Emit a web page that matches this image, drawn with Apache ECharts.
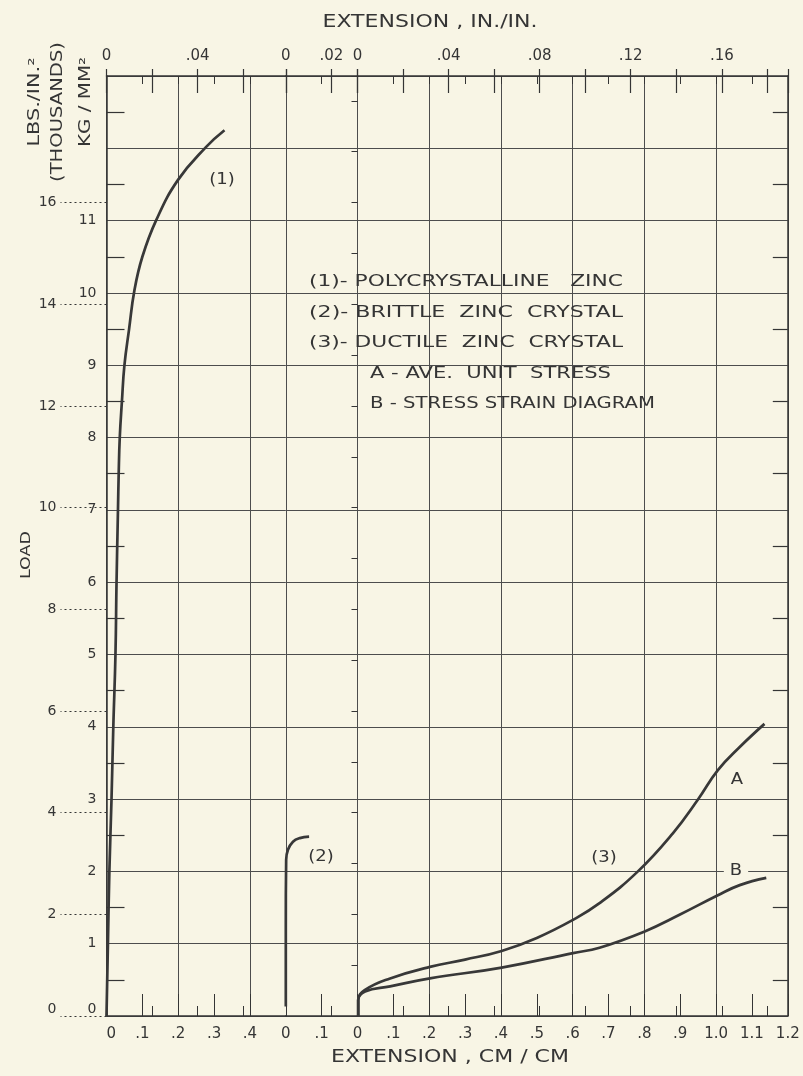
<!DOCTYPE html>
<html>
<head>
<meta charset="utf-8">
<script src="https://cdn.jsdelivr.net/npm/echarts@6/dist/echarts.min.js"></script>
<style>
  html, body { margin: 0; padding: 0; background: #f8f5e5; }
  #chart { width: 803px; height: 1076px; }
</style>
</head>
<body>
<div id="chart"></div>
<script>
// (1) Polycrystalline zinc: extension (cm/cm) and load (kg/mm²)
const polyExt  = [0, 0.004, 0.008, 0.014, 0.019, 0.025, 0.028, 0.032, 0.034, 0.037, 0.043, 0.050, 0.063, 0.078, 0.100, 0.138, 0.199, 0.278, 0.329];
const polyLoad = [0, 1, 2, 3, 4, 5, 6, 7, 7.5, 8, 8.5, 9, 9.5, 10.04, 10.5, 11.0, 11.56, 12.02, 12.25];

// (2) Brittle zinc crystal
const brittleExt  = [0, 0, 0.001, 0.006, 0.020, 0.039, 0.065];
const brittleLoad = [0.13, 1.2, 2.16, 2.30, 2.41, 2.46, 2.48];

// (3) Ductile zinc crystal, A: average unit stress
const ductileAExt  = [0.002, 0.002, 0.021, 0.091, 0.202, 0.300, 0.402, 0.500, 0.601, 0.675, 0.782, 0.880, 0.949, 1.005, 1.066, 1.135];
const ductileALoad = [0, 0.22, 0.36, 0.52, 0.68, 0.78, 0.90, 1.08, 1.33, 1.56, 2.00, 2.53, 2.99, 3.40, 3.72, 4.04];

// (3) Ductile zinc crystal, B: stress-strain diagram
const ductileBExt  = [0.002, 0.002, 0.021, 0.091, 0.202, 0.402, 0.601, 0.675, 0.801, 0.898, 1.005, 1.066, 1.140];
const ductileBLoad = [0, 0.22, 0.34, 0.41, 0.52, 0.67, 0.87, 0.945, 1.17, 1.40, 1.67, 1.81, 1.91];

// Secondary load scale (thousands of lb/in²) marked on the left
const ksiTicks = [0, 2, 4, 6, 8, 10, 12, 14, 16];

// Legend lines
const legendLines = [
  '(1)- POLYCRYSTALLINE   ZINC',
  '(2)- BRITTLE  ZINC  CRYSTAL',
  '(3)- DUCTILE  ZINC  CRYSTAL'
];
const subLegendLines = [
  'A - AVE.  UNIT  STRESS',
  'B - STRESS STRAIN DIAGRAM'
];

const KSI_PER_KG = 1.4223;        // 1 kg/mm² expressed in thousands of lb/in²
const IN_SCALE = 1 / 6.35;        // inch-scale units per cm-scale unit on the extension axes
const LOAD_MAX = 13;

const PAPER = '#f8f5e5';
const INK = '#353535';
const GRID = '#4d4d4d';
const FONT = '"DejaVu Sans", sans-serif';

// Three side-by-side panels share the load axis; each has its own extension origin.
const segments = [
  { left: 106.5, width: 179.3, maxCm: 0.5, inStep: 0.04 },
  { left: 285.8, width: 71.7,  maxCm: 0.2, inStep: 0.02 },
  { left: 357.5, width: 430.3, maxCm: 1.2, inStep: 0.04 }
];
const PLOT_TOP = 76, PLOT_H = 940;

function fmtCm(v) {
  if (Math.abs(v) < 1e-9) return '0';
  const s = v.toFixed(1);
  return v < 1 ? s.slice(1) : s;
}
function fmtIn(v) {
  if (Math.abs(v) < 1e-9) return '0';
  return v.toFixed(2).slice(1);
}
function isMultiple(v, step) {
  const k = v / step;
  return Math.abs(k - Math.round(k)) < 1e-6;
}
const zip = (xs, ys) => xs.map((x, i) => [x, ys[i]]);

const grids = [], xAxes = [], yAxes = [], idx = [];
const hidden = { axisLine: { show: false }, axisTick: { show: false }, axisLabel: { show: false }, splitLine: { show: false } };

segments.forEach((s, i) => {
  const inMax = s.maxCm * IN_SCALE;
  const ix = {};
  grids.push({ left: s.left, width: s.width, top: PLOT_TOP, height: PLOT_H, containLabel: false, outerBoundsMode: 'none' });

  // cm/cm scale along the bottom, labelled every 0.1
  ix.cm = xAxes.length;
  xAxes.push({
    type: 'value', gridIndex: i, position: 'bottom', min: 0, max: s.maxCm, interval: 0.1,
    axisLine: { show: true, onZero: false, lineStyle: { color: INK, width: 1.5 } },
    axisTick: { show: true, inside: true, length: 22, lineStyle: { color: INK, width: 1 } },
    axisLabel: {
      show: true, margin: 11, color: INK, fontSize: 15, fontFamily: FONT,
      showMinLabel: true, showMaxLabel: true,
      alignMinLabel: i === 0 ? 'left' : 'center',
      formatter: v => (i < 2 && v > s.maxCm - 1e-6) ? '' : fmtCm(v)
    },
    splitLine: { show: false }
  });
  // vertical grid every 0.2 cm/cm
  xAxes.push(Object.assign({}, hidden, {
    type: 'value', gridIndex: i, position: 'bottom', min: 0, max: s.maxCm, interval: 0.2,
    splitLine: { show: true, lineStyle: { color: GRID, width: 1 } }
  }));
  // in./in. scale short ticks along the bottom
  xAxes.push(Object.assign({}, hidden, {
    type: 'value', gridIndex: i, position: 'bottom', min: 0, max: inMax, interval: 0.02,
    axisTick: { show: true, inside: true, length: 10, lineStyle: { color: INK, width: 1 } }
  }));
  // in./in. scale along the top, labelled
  xAxes.push({
    type: 'value', gridIndex: i, position: 'top', min: 0, max: inMax, interval: 0.02,
    axisLine: { show: true, onZero: false, lineStyle: { color: INK, width: 1.5 } },
    axisTick: { show: true, inside: true, length: 17, lineStyle: { color: INK, width: 1.2 } },
    axisLabel: {
      show: true, margin: 12, color: INK, fontSize: 15, fontFamily: FONT,
      showMinLabel: true, showMaxLabel: true,
      formatter: v => (v < inMax - 1e-6 && isMultiple(v, s.inStep)) ? fmtIn(v) : ''
    },
    splitLine: { show: false }
  });
  // the same ticks poking above the top edge
  xAxes.push(Object.assign({}, hidden, {
    type: 'value', gridIndex: i, position: 'top', min: 0, max: inMax, interval: 0.02,
    axisTick: { show: true, inside: false, length: 7, lineStyle: { color: INK, width: 1.2 } }
  }));
  // cm/cm short ticks along the top
  xAxes.push(Object.assign({}, hidden, {
    type: 'value', gridIndex: i, position: 'top', min: 0, max: s.maxCm, interval: 0.1,
    axisTick: { show: true, inside: true, length: 8, lineStyle: { color: INK, width: 1 } }
  }));

  // load in kg/mm²
  ix.kg = yAxes.length;
  yAxes.push({
    type: 'value', gridIndex: i, position: i === 2 ? 'right' : 'left', min: 0, max: LOAD_MAX, interval: 1,
    axisLine: { show: i !== 1, onZero: false, lineStyle: { color: INK, width: 1.5 } },
    axisTick: { show: false, inside: true },
    minorTick: { show: i !== 1, splitNumber: 2, length: i === 0 ? 18 : 15, lineStyle: { color: INK, width: 1.2 } },
    axisLabel: {
      show: i === 0, margin: 10, color: INK, fontSize: 14, fontFamily: FONT,
      showMinLabel: true, verticalAlignMinLabel: 'bottom',
      formatter: v => v <= 11 ? String(v) : ''
    },
    splitLine: { show: true, lineStyle: { color: GRID, width: 1 } }
  });

  if (i === 0) {
    // thousands of lb/in², dotted leaders to the left edge
    yAxes.push({
      type: 'value', gridIndex: 0, position: 'left', min: 0, max: LOAD_MAX * KSI_PER_KG, interval: 2,
      axisLine: { show: false },
      axisTick: { show: true, inside: false, length: 46, customValues: ksiTicks, lineStyle: { color: INK, width: 1, type: [2, 3] } },
      axisLabel: {
        show: true, margin: 50, color: INK, fontSize: 14, fontFamily: FONT, customValues: ksiTicks,
        showMinLabel: true, verticalAlignMinLabel: 'bottom'
      },
      splitLine: { show: false }
    });
  }
  if (i === 2) {
    yAxes.push(Object.assign({}, hidden, {
      type: 'value', gridIndex: 2, position: 'right', min: 0, max: LOAD_MAX * KSI_PER_KG, interval: 1,
      axisTick: { show: true, inside: true, length: 6, lineStyle: { color: INK, width: 1 } }
    }));
  }
  idx.push(ix);
});

const curveStyle = { color: '#383838', width: 2.7 };
function curve(name, seg, xs, ys) {
  return {
    type: 'line', name, xAxisIndex: idx[seg].cm, yAxisIndex: idx[seg].kg,
    data: zip(xs, ys), smooth: 0.45, symbol: 'none', clip: false,
    lineStyle: curveStyle, itemStyle: { color: curveStyle.color }, z: 5
  };
}

// Hand-lettered captions are wide; stretch each one horizontally to its drawn length.
const measureCtx = document.createElement('canvas').getContext('2d');
function stretchTo(text, size, width) {
  measureCtx.font = size + 'px ' + FONT;
  return width / measureCtx.measureText(text).width;
}

function txt(text, x, y, o = {}) {
  const align = o.align || 'center';
  const size = o.size || 15;
  const sx = o.width ? stretchTo(text, size, o.width) : (o.sx || 1);
  return {
    type: 'text', x, y, rotation: o.rot || 0, scaleX: sx, z: 100,
    style: {
      text, fill: INK, font: size + 'px ' + FONT,
      textAlign: align, align: align,
      textVerticalAlign: 'middle', verticalAlign: 'middle',
      backgroundColor: o.bg, padding: o.pad
    }
  };
}

const graphics = [
  txt('EXTENSION , IN./IN.', 430, 23, { size: 17, width: 215 }),
  txt('EXTENSION , CM / CM', 450, 1058, { size: 17, width: 238 }),
  txt('LBS./IN.²', 35, 102, { size: 15, width: 89, rot: Math.PI / 2 }),
  txt('(THOUSANDS)', 58, 112, { size: 15, width: 140, rot: Math.PI / 2 }),
  txt('KG / MM²', 86, 102, { size: 15, width: 90, rot: Math.PI / 2 }),
  txt('LOAD', 26, 555, { size: 14, sx: 1.25, rot: Math.PI / 2 }),
  txt('(1)', 222, 180, { size: 15, sx: 1.2 }),
  txt('(2)', 321, 857, { size: 15, sx: 1.2 }),
  txt('(3)', 604, 858, { size: 15, sx: 1.2 }),
  txt('A', 737, 780, { size: 15, sx: 1.2 }),
  txt('B', 736, 871, { size: 15, sx: 1.2, bg: PAPER, pad: [0, 5] })
];
const legendWidths = [314, 314, 314];
const subLegendWidths = [241, 285];
legendLines.forEach((t, k) => graphics.push(txt(t, 309, 282 + k * 30.5, { size: 16, width: legendWidths[k], align: 'left' })));
subLegendLines.forEach((t, k) => graphics.push(txt(t, 370, 373.5 + k * 30.5, { size: 16, width: subLegendWidths[k], align: 'left' })));

const chart = echarts.init(document.getElementById('chart'), null, { renderer: 'canvas' });
chart.setOption({
  backgroundColor: PAPER,
  animation: false,
  textStyle: { fontFamily: FONT },
  grid: grids,
  xAxis: xAxes,
  yAxis: yAxes,
  series: [
    curve('(1) Polycrystalline zinc', 0, polyExt, polyLoad),
    curve('(2) Brittle zinc crystal', 1, brittleExt, brittleLoad),
    curve('(3) A', 2, ductileAExt, ductileALoad),
    curve('(3) B', 2, ductileBExt, ductileBLoad)
  ],
  graphic: graphics
});
</script>
</body>
</html>
